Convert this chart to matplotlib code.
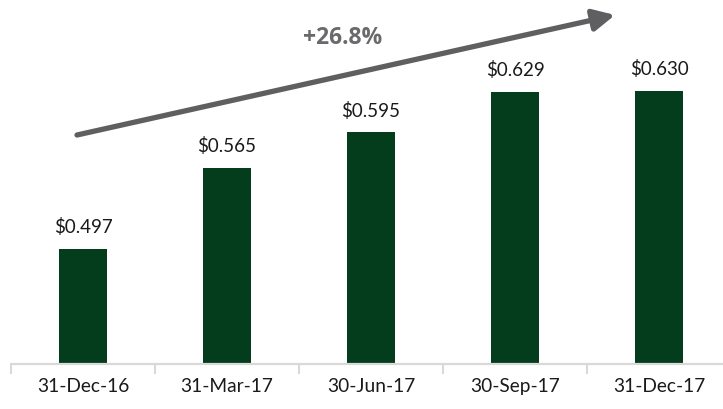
import matplotlib
matplotlib.use("Agg")
import matplotlib.pyplot as plt

categories = ["31-Dec-16", "31-Mar-17", "30-Jun-17", "30-Sep-17", "31-Dec-17"]
values = [0.497, 0.565, 0.595, 0.629, 0.630]
labels = ["$0.497", "$0.565", "$0.595", "$0.629", "$0.630"]
growth_label = "+26.8%"

plt.rcParams['font.family'] = ['Lato', 'DejaVu Sans']

W, H = 723, 409
fig = plt.figure(figsize=(W / 100, H / 100), dpi=100)
ax = fig.add_axes([11 / W, (H - 364) / H, 720 / W, 364 / H])

x = list(range(len(categories)))
ax.bar(x, values, width=0.33, color="#033d1b", zorder=2)
ax.set_ylim(0.4, 0.4 + 364 / 1188)
ax.set_xlim(-0.5, len(categories) - 0.5)

for xi, v, lab in zip(x, values, labels):
    ax.annotate(lab, (xi, v), xytext=(0, 9), textcoords="offset points",
                ha="center", va="bottom", fontsize=13.5, color="#1a1a1a")

for s in ["top", "right", "left"]:
    ax.spines[s].set_visible(False)
ax.spines["bottom"].set_color("#d9d9d9")
ax.spines["bottom"].set_linewidth(1.6)
ax.set_yticks([])
ax.set_xticks(x)
ax.set_xticklabels(categories, fontsize=13.8, color="#1a1a1a")
ax.tick_params(axis="x", which="major", length=0, pad=10)
ax.set_xticks([i - 0.5 for i in range(len(categories) + 1)], minor=True)
ax.tick_params(axis="x", which="minor", length=7, width=1.5, color="#d9d9d9")

# growth arrow
ax.annotate("", xy=(615 / W, 1 - 15 / H), xytext=(77 / W, 1 - 135 / H),
            xycoords="figure fraction", textcoords="figure fraction",
            arrowprops=dict(arrowstyle="-|>,head_length=1.3,head_width=0.65",
                            lw=3.8, color="#5f5f62", shrinkA=0, shrinkB=0))
fig.text(343 / W, 1 - 38 / H, growth_label, ha="center", va="center",
         fontsize=16.5, fontweight="bold", color="#6a6a6d",
         family=["Open Sans", "DejaVu Sans"])

fig.savefig("out.png", dpi=100)
